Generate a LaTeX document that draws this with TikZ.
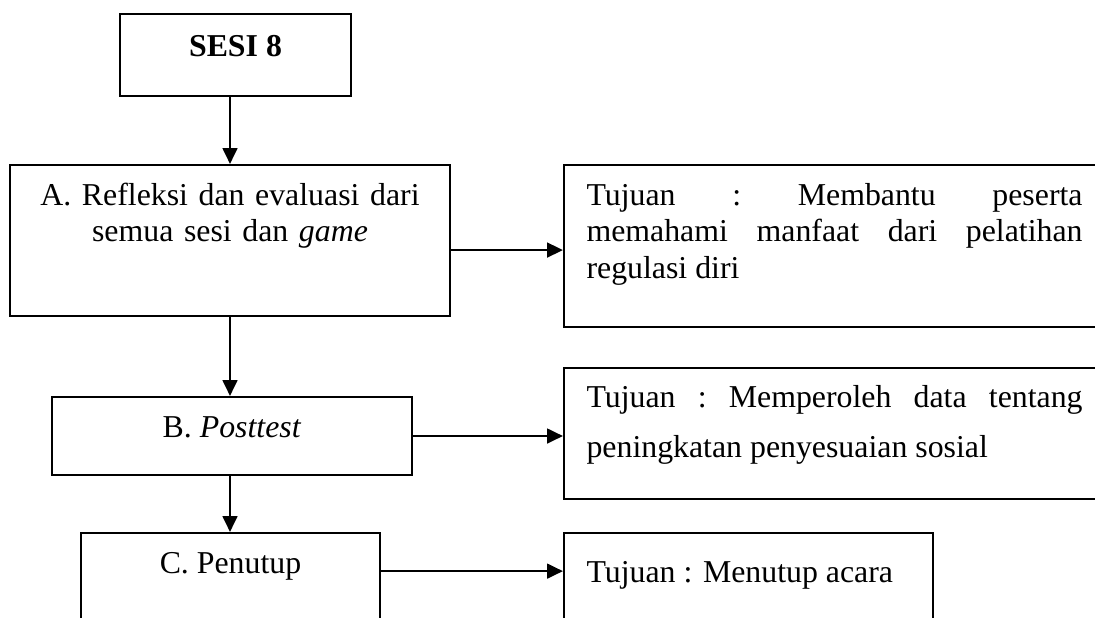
\documentclass[tikz,border=0pt]{standalone}
\usepackage{fontspec}
\setmainfont{Liberation Serif}
\usetikzlibrary{arrows.meta}
\newcommand{\px}{0.377pt}

\begin{document}
\begin{tikzpicture}[x=0.377pt, y=-0.377pt,
    box/.style={rectangle, draw, line width=0.8pt, inner sep=0pt},
    tnote/.style={inner sep=0pt, font=\fontsize{12}{13.8}\selectfont},
    flow/.style={line width=0.8pt, -{Triangle[length=6pt, width=5.6pt]}}]

\useasboundingbox (0,0) rectangle (1095,617);
\clip (0,0) rectangle (1095,617);

% Session box
\node[box, minimum width=231*\px, minimum height=82*\px] (sesi) at (235.5,55) {};
\node[tnote, anchor=base, font=\fontsize{12}{13.8}\selectfont\bfseries] (sesiT) at (235.5,56) {SESI 8};

% Steps A, B, C
\node[box, minimum width=440*\px, minimum height=151*\px] (refl) at (230,240.5) {};
\node[tnote, anchor=base, text width=440*\px, align=center] (reflT) at (230,205)
    {A. Refleksi dan evaluasi dari\\ semua sesi dan \textit{game}};
\node[box, minimum width=360*\px, minimum height=78*\px] (post) at (232,436) {};
\node[tnote, anchor=base] (postT) at (232,437) {B. \textit{Posttest}};
\node[box, minimum width=299*\px, minimum height=107*\px] (tutup) at (230.5,586.5) {};
\node[tnote, anchor=base] (tutupT) at (230.5,573) {C. Penutup};

% Goal boxes (cut off at the right)
\node[box, minimum width=620*\px, minimum height=162*\px] (tuj1) at (874,246) {};
\node[tnote, anchor=base west, text width=496*\px, align=justify] (tuj1T) at (586,205)
    {\frenchspacing Tujuan : Membantu peserta\linebreak memahami manfaat dari pelatihan\linebreak regulasi diri};
\node[box, minimum width=620*\px, minimum height=131*\px] (tuj2) at (874,433.5) {};
\node[tnote, anchor=base west, text width=496*\px, align=justify, font=\fontsize{12}{19.2}\selectfont] (tuj2T) at (586,407)
    {\frenchspacing Tujuan : Memperoleh data tentang\linebreak peningkatan penyesuaian sosial};
\node[box, minimum width=369*\px, minimum height=107*\px] (tuj3) at (748.5,586.5) {};
\node[tnote, anchor=base west] (tuj3T) at (586,582) {Tujuan : Menutup acara};

% Flow down
\draw[flow] (refl.north |- sesi.south) -- (refl.north);
\draw[flow] (refl.south) -- (post.north -| refl.south);
\draw[flow] (post.south -| refl.south) -- (tutup.north -| refl.south);

% Goals
\coordinate (aout) at ([yshift=-3.6pt]refl.east);
\coordinate (cout) at ([yshift=5.8pt]tutup.east);
\draw[flow] (aout) -- (aout -| tuj1.west);
\draw[flow] (post.east) -- (post.east -| tuj2.west);
\draw[flow] (cout) -- (cout -| tuj3.west);

\end{tikzpicture}
\end{document}
